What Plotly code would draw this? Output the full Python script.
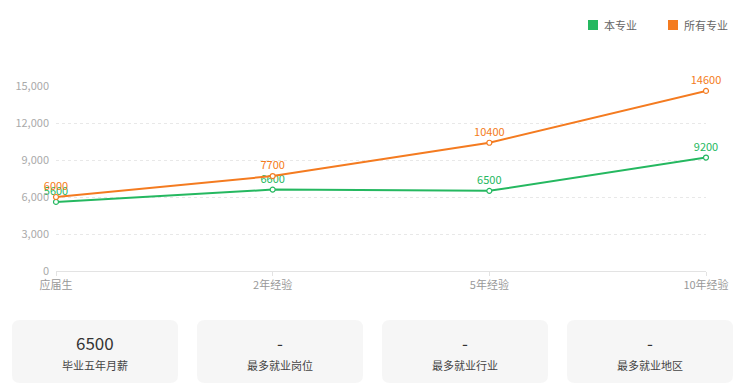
import plotly.graph_objects as go

categories = ["应届生", "2年经验", "5年经验", "10年经验"]
major_values = [5600, 6600, 6500, 9200]
all_values = [6000, 7700, 10400, 14600]
series_names = ["本专业", "所有专业"]
y_ticks = [0, 3000, 6000, 9000, 12000, 15000]
y_tick_labels = ["0", "3,000", "6,000", "9,000", "12,000", "15,000"]
card_values = ["6500", "-", "-", "-"]
card_labels = ["毕业五年月薪", "最多就业岗位", "最多就业行业", "最多就业地区"]

GREEN = "#25b860"
ORANGE = "#f47b20"
FONT = "Noto Sans CJK SC"

OFF = 8  # page body margin
W, H = 742 - OFF, 389 - OFF
# plot area in reference pixel coordinates
PL, PR, PT, PB = 56, 706, 86, 271
L, T = PL - OFF, PT - OFF
R, B = W - (PR - OFF), H - (PB - OFF)
PW, PH = PR - PL, PB - PT


def px(x):
    return (x - PL) / PW


def py(y):
    return (PB - y) / PH


fig = go.Figure()
for name, vals, col in [(series_names[0], major_values, GREEN), (series_names[1], all_values, ORANGE)]:
    fig.add_trace(go.Scatter(
        x=categories, y=vals, name=name, mode="lines+markers+text",
        line=dict(color=col, width=2),
        marker=dict(symbol="circle", size=5, color="white", line=dict(color=col, width=1.2)),
        text=[str(v) for v in vals], textposition="top center",
        textfont=dict(color=col, size=11, family=FONT),
        showlegend=False, cliponaxis=False,
    ))

shapes = []
annotations = []

# legend
for i, (name, col) in enumerate(zip(series_names, [GREEN, ORANGE])):
    x0 = [588, 668][i]
    shapes.append(dict(type="rect", xref="paper", yref="paper",
                       x0=px(x0), x1=px(x0 + 10), y0=py(30), y1=py(20),
                       fillcolor=col, line=dict(width=0)))
    annotations.append(dict(text=name, xref="paper", yref="paper", x=px(x0 + 14), y=py(25),
                            xanchor="left", yanchor="middle", showarrow=False,
                            font=dict(size=11, color="#666", family=FONT)))

# cards
card_x = [12, 197, 382, 567]
cw, ct, cb, r = 166, 320, 383, 8
for i, cx in enumerate(card_x):
    x0, x1 = cx, cx + cw
    path = (f"M {px(x0 + r)},{py(ct)} L {px(x1 - r)},{py(ct)} Q {px(x1)},{py(ct)} {px(x1)},{py(ct + r)} "
            f"L {px(x1)},{py(cb - r)} Q {px(x1)},{py(cb)} {px(x1 - r)},{py(cb)} "
            f"L {px(x0 + r)},{py(cb)} Q {px(x0)},{py(cb)} {px(x0)},{py(cb - r)} "
            f"L {px(x0)},{py(ct + r)} Q {px(x0)},{py(ct)} {px(x0 + r)},{py(ct)} Z")
    shapes.append(dict(type="path", xref="paper", yref="paper", path=path,
                       fillcolor="#f6f6f6", line=dict(width=0), layer="below"))
    annotations.append(dict(text=card_values[i], xref="paper", yref="paper", x=px(cx + cw / 2), y=py(342),
                            xanchor="center", yanchor="middle", showarrow=False,
                            font=dict(size=17, color="#333", family=FONT)))
    annotations.append(dict(text=card_labels[i], xref="paper", yref="paper", x=px(cx + cw / 2), y=py(365),
                            xanchor="center", yanchor="middle", showarrow=False,
                            font=dict(size=11, color="#444", family=FONT)))

fig.update_layout(
    width=W, height=H, autosize=False, margin=dict(l=L, r=R, t=T, b=B, pad=0, autoexpand=False),
    plot_bgcolor="white", paper_bgcolor="white",
    font=dict(family=FONT, size=11, color="#999"),
    shapes=shapes, annotations=annotations,
    xaxis=dict(type="category", range=[0, 3], showgrid=False, showline=True, linecolor="#e3e3e3",
               ticks="outside", ticklen=4, tickcolor="#e3e3e3", tickfont=dict(size=11, color="#999"),
               zeroline=False, fixedrange=True, automargin=False),
    yaxis=dict(range=[0, 15000], tickvals=y_ticks, ticktext=y_tick_labels, showgrid=True,
               gridcolor="#e8e8e8", griddash="dot", zeroline=False, showline=False,
               tickfont=dict(size=11, color="#aaa"), ticks="", ticklabelstandoff=6, fixedrange=True,
               automargin=False),
)

fig.write_html("out.html")
